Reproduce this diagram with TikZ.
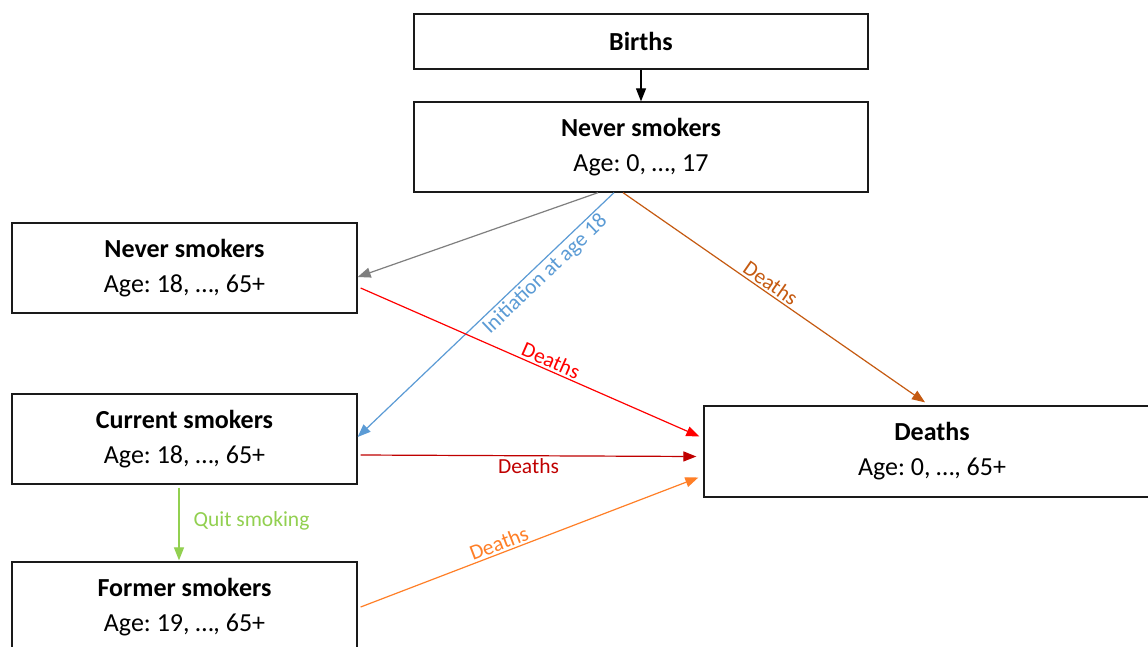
\documentclass[tikz,border=0pt]{standalone}
\usepackage{fontspec}
\setmainfont{Carlito}
\frenchspacing
\usetikzlibrary{arrows.meta}
\definecolor{cgray}{HTML}{7F7F7F}
\definecolor{cblue}{HTML}{5B9BD5}
\definecolor{cbrown}{HTML}{C55A11}
\definecolor{cred}{HTML}{FF0000}
\definecolor{cdred}{HTML}{C00000}
\definecolor{cgreen}{HTML}{92D050}
\definecolor{corange}{HTML}{FF7F27}
\definecolor{cbox}{HTML}{1A1A1A}
\begin{document}
\begin{tikzpicture}[x=1pt,y=1pt,
  box/.style={draw=cbox, line width=1.3pt, fill=white, rectangle, align=center,
    inner sep=0pt, font=\fontsize{26}{35}\selectfont},
  flow/.style={line width=1.2pt, -{Triangle[length=13pt,width=10pt]}},
  lab/.style={font=\fontsize{21.5}{24}\selectfont, inner sep=2pt}]
\useasboundingbox (0,0) rectangle (1148,-646);
\clip (0,0) rectangle (1148,-646);
\fill[white] (0,0) rectangle (1148,-646);

\node[box, minimum width=454, minimum height=55] (births) at (641,-41.5) {\textbf{Births}};
\node[box, minimum width=454, minimum height=90] (n0) at (641,-147) {\textbf{Never smokers}\\Age: 0, …, 17};
\node[box, minimum width=345, minimum height=90] (ns) at (184.5,-268) {\textbf{Never smokers}\\Age: 18, …, 65+};
\node[box, minimum width=345, minimum height=90] (cs) at (184.5,-439) {\textbf{Current smokers}\\Age: 18, …, 65+};
\node[box, minimum width=345, minimum height=90] (fs) at (184.5,-607) {\textbf{Former smokers}\\Age: 19, …, 65+};
\node[box, minimum width=456, minimum height=91] (dt) at (932,-451.5) {\textbf{Deaths}\\Age: 0, …, 65+};

\draw[flow, black] (births.south) -- (n0.north);
\draw[flow, cgray] ([xshift=-43]n0.south) -- ([yshift=-9]ns.east);
\draw[flow, cblue] ([xshift=-27]n0.south) -- ([yshift=2]cs.east)
  node[lab, text=cblue, pos=0.3, sloped, below] {Initiation at age 18};
\draw[flow, cbrown] ([xshift=-18]n0.south) -- ([xshift=-7,yshift=3]dt.north)
  node[lab, text=cbrown, pos=0.47, sloped, above] {Deaths};
\draw[flow, cred] ([xshift=3,yshift=-20]ns.east) -- ([xshift=-4,yshift=15]dt.west)
  node[lab, text=cred, pos=0.55, sloped, above] {Deaths};
\draw[flow, cdred] ([xshift=3,yshift=-16]cs.east) -- ([xshift=-7,yshift=-5]dt.west)
  node[lab, text=cdred, pos=0.5, below] {Deaths};
\draw[flow, corange] ([xshift=3]fs.east) -- ([xshift=-5,yshift=-26]dt.west)
  node[lab, text=corange, pos=0.42, sloped, above] {Deaths};
\draw[flow, cgreen] ([xshift=-5.5,yshift=-3]cs.south) -- ([xshift=-5.5,yshift=1]fs.north)
  node[lab, text=cgreen, pos=0.46, right, xshift=12] {Quit smoking};
\end{tikzpicture}
\end{document}
